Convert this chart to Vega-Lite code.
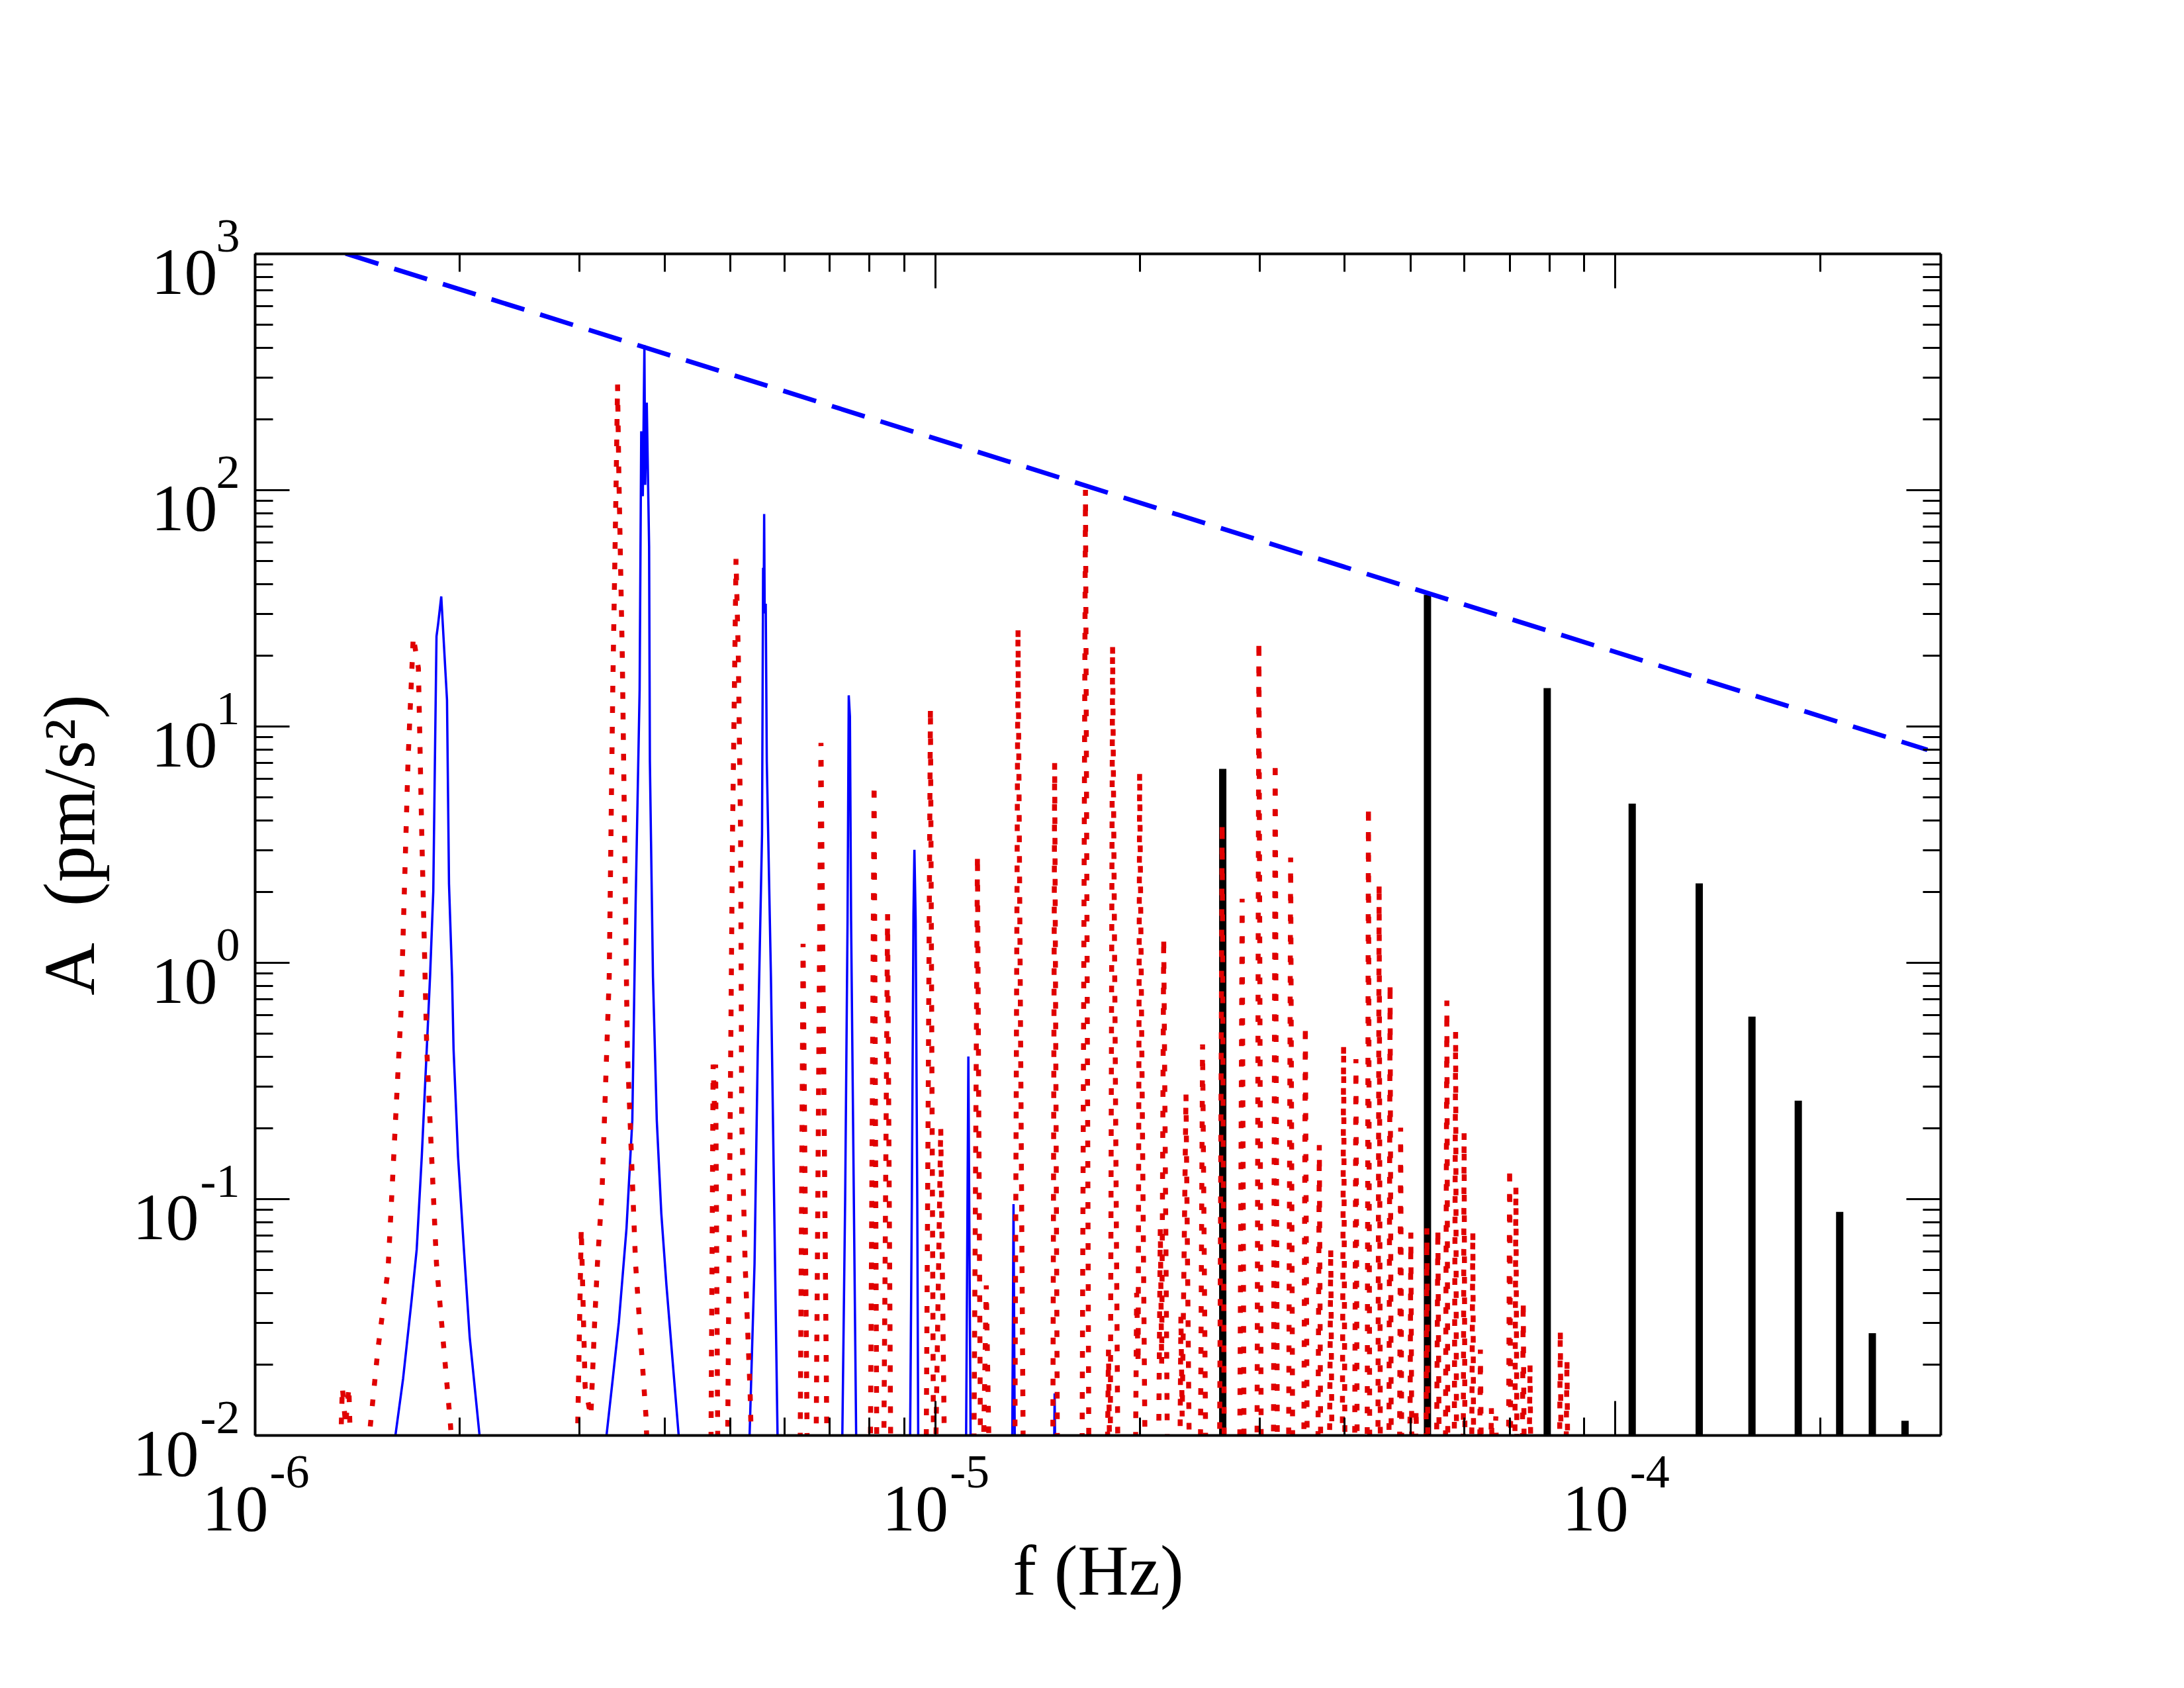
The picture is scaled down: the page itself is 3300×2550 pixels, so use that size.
{
  "$schema": "https://vega.github.io/schema/vega-lite/v6.json",
  "width": 2547,
  "height": 1785,
  "autosize": "none",
  "padding": {"left": 385, "top": 383, "right": 368, "bottom": 382},
  "background": "white",
  "config": {
    "view": {"stroke": null},
    "axis": {"grid": false, "labelFlush": false, "labelOverlap": false, "labelColor": "black", "labelFont": "Liberation Serif", "titleFont": "Liberation Serif", "titleColor": "black", "titleFontWeight": "normal"}
  },
  "datasets": {
    "red": [
      {"f": 1.33e-6, "A": 0.005}, {"f": 1.345e-6, "A": 0.016}, {"f": 1.36e-6, "A": 0.011}, {"f": 1.375e-6, "A": 0.016}, {"f": 1.39e-6, "A": 0.005},
      {"f": 1.46e-6, "A": 0.005}, {"f": 1.474e-6, "A": 0.01}, {"f": 1.517e-6, "A": 0.023}, {"f": 1.57e-6, "A": 0.05}, {"f": 1.64e-6, "A": 0.61}, {"f": 1.68e-6, "A": 7.1}, {"f": 1.71e-6, "A": 24}, {"f": 1.74e-6, "A": 17.6}, {"f": 1.76e-6, "A": 3.5}, {"f": 1.79e-6, "A": 0.43}, {"f": 1.85e-6, "A": 0.053}, {"f": 1.94e-6, "A": 0.011}, {"f": 1.97e-6, "A": 0.005},
      {"f": 2.97e-6, "A": 0.005}, {"f": 3.02e-6, "A": 0.075}, {"f": 3.06e-6, "A": 0.016}, {"f": 3.12e-6, "A": 0.012}, {"f": 3.16e-6, "A": 0.03}, {"f": 3.19e-6, "A": 0.053}, {"f": 3.24e-6, "A": 0.107}, {"f": 3.32e-6, "A": 0.87}, {"f": 3.36e-6, "A": 14.3}, {"f": 3.4e-6, "A": 116}, {"f": 3.415e-6, "A": 279}, {"f": 3.43e-6, "A": 116}, {"f": 3.47e-6, "A": 20}, {"f": 3.53e-6, "A": 0.43}, {"f": 3.63e-6, "A": 0.053}, {"f": 3.76e-6, "A": 0.012}, {"f": 3.8e-6, "A": 0.005},
      {"f": 4.68e-6, "A": 0.005}, {"f": 4.72e-6, "A": 0.37}, {"f": 4.74e-6, "A": 0.25}, {"f": 4.76e-6, "A": 0.37}, {"f": 4.8e-6, "A": 0.005},
      {"f": 4.95e-6, "A": 0.005}, {"f": 4.98e-6, "A": 0.053}, {"f": 5.01e-6, "A": 0.43}, {"f": 5.04e-6, "A": 3.5}, {"f": 5.08e-6, "A": 20}, {"f": 5.1e-6, "A": 51}, {"f": 5.14e-6, "A": 20}, {"f": 5.18e-6, "A": 3.5}, {"f": 5.2e-6, "A": 0.215}, {"f": 5.26e-6, "A": 0.053}, {"f": 5.35e-6, "A": 0.015}, {"f": 5.4e-6, "A": 0.005},
      {"f": 6.33e-6, "A": 0.005}, {"f": 6.4e-6, "A": 1.2}, {"f": 6.5e-6, "A": 0.005},
      {"f": 6.68e-6, "A": 0.005}, {"f": 6.8e-6, "A": 8.5}, {"f": 6.95e-6, "A": 0.005},
      {"f": 8.03e-6, "A": 0.005}, {"f": 8.14e-6, "A": 5.7}, {"f": 8.22e-6, "A": 0.005},
      {"f": 8.4e-6, "A": 0.005}, {"f": 8.52e-6, "A": 1.6}, {"f": 8.62e-6, "A": 0.005},
      {"f": 9.7e-6, "A": 0.005}, {"f": 9.85e-6, "A": 12}, {"f": 9.96e-6, "A": 0.005},
      {"f": 1.0e-5, "A": 0.005}, {"f": 1.02e-5, "A": 0.2}, {"f": 1.035e-5, "A": 0.005},
      {"f": 1.14e-5, "A": 0.005}, {"f": 1.155e-5, "A": 2.86}, {"f": 1.168e-5, "A": 0.005},
      {"f": 1.175e-5, "A": 0.005}, {"f": 1.19e-5, "A": 0.043}, {"f": 1.205e-5, "A": 0.005},
      {"f": 1.31e-5, "A": 0.005}, {"f": 1.325e-5, "A": 26}, {"f": 1.35e-5, "A": 0.005},
      {"f": 1.49e-5, "A": 0.005}, {"f": 1.5e-5, "A": 7}, {"f": 1.515e-5, "A": 0.005},
      {"f": 1.645e-5, "A": 0.005}, {"f": 1.665e-5, "A": 100}, {"f": 1.685e-5, "A": 0.005},
      {"f": 1.79e-5, "A": 0.005}, {"f": 1.8e-5, "A": 0.023}, {"f": 1.81e-5, "A": 0.005}, {"f": 1.825e-5, "A": 22}, {"f": 1.86e-5, "A": 0.005},
      {"f": 1.97e-5, "A": 0.005}, {"f": 1.98e-5, "A": 0.04}, {"f": 1.99e-5, "A": 0.02}, {"f": 2.0e-5, "A": 6.4}, {"f": 2.04e-5, "A": 0.005},
      {"f": 2.13e-5, "A": 0.005}, {"f": 2.145e-5, "A": 0.075}, {"f": 2.155e-5, "A": 0.02}, {"f": 2.17e-5, "A": 1.28}, {"f": 2.2e-5, "A": 0.005},
      {"f": 2.29e-5, "A": 0.005}, {"f": 2.3e-5, "A": 0.032}, {"f": 2.31e-5, "A": 0.012}, {"f": 2.34e-5, "A": 0.277}, {"f": 2.37e-5, "A": 0.005},
      {"f": 2.455e-5, "A": 0.005}, {"f": 2.475e-5, "A": 0.45}, {"f": 2.49e-5, "A": 0.05}, {"f": 2.505e-5, "A": 0.005},
      {"f": 2.62e-5, "A": 0.005}, {"f": 2.645e-5, "A": 3.9}, {"f": 2.665e-5, "A": 0.005},
      {"f": 2.805e-5, "A": 0.005}, {"f": 2.83e-5, "A": 1.86}, {"f": 2.85e-5, "A": 0.005},
      {"f": 2.975e-5, "A": 0.005}, {"f": 2.995e-5, "A": 23}, {"f": 3.02e-5, "A": 0.005},
      {"f": 3.145e-5, "A": 0.005}, {"f": 3.165e-5, "A": 7.1}, {"f": 3.19e-5, "A": 0.005},
      {"f": 3.31e-5, "A": 0.005}, {"f": 3.335e-5, "A": 2.78}, {"f": 3.36e-5, "A": 0.005},
      {"f": 3.485e-5, "A": 0.005}, {"f": 3.505e-5, "A": 0.545}, {"f": 3.53e-5, "A": 0.005},
      {"f": 3.655e-5, "A": 0.005}, {"f": 3.675e-5, "A": 0.169}, {"f": 3.695e-5, "A": 0.005},
      {"f": 3.8e-5, "A": 0.005}, {"f": 3.82e-5, "A": 0.062}, {"f": 3.84e-5, "A": 0.005},
      {"f": 3.97e-5, "A": 0.005}, {"f": 3.99e-5, "A": 0.45}, {"f": 4.01e-5, "A": 0.005},
      {"f": 4.14e-5, "A": 0.005}, {"f": 4.16e-5, "A": 0.39}, {"f": 4.18e-5, "A": 0.005},
      {"f": 4.32e-5, "A": 0.005}, {"f": 4.34e-5, "A": 4.6}, {"f": 4.36e-5, "A": 0.005},
      {"f": 4.48e-5, "A": 0.005}, {"f": 4.5e-5, "A": 2.17}, {"f": 4.52e-5, "A": 0.005},
      {"f": 4.65e-5, "A": 0.005}, {"f": 4.67e-5, "A": 0.82}, {"f": 4.69e-5, "A": 0.005},
      {"f": 4.82e-5, "A": 0.005}, {"f": 4.84e-5, "A": 0.2}, {"f": 4.86e-5, "A": 0.005},
      {"f": 4.99e-5, "A": 0.005}, {"f": 5.01e-5, "A": 0.072}, {"f": 5.03e-5, "A": 0.005},
      {"f": 5.08e-5, "A": 0.005}, {"f": 5.1e-5, "A": 0.013}, {"f": 5.12e-5, "A": 0.005},
      {"f": 5.27e-5, "A": 0.005}, {"f": 5.29e-5, "A": 0.075}, {"f": 5.31e-5, "A": 0.005},
      {"f": 5.46e-5, "A": 0.005}, {"f": 5.49e-5, "A": 0.075}, {"f": 5.52e-5, "A": 0.005},
      {"f": 5.63e-5, "A": 0.005}, {"f": 5.66e-5, "A": 0.69}, {"f": 5.68e-5, "A": 0.005},
      {"f": 5.8e-5, "A": 0.005}, {"f": 5.83e-5, "A": 0.51}, {"f": 5.85e-5, "A": 0.005},
      {"f": 5.98e-5, "A": 0.005}, {"f": 6.0e-5, "A": 0.19}, {"f": 6.02e-5, "A": 0.005},
      {"f": 6.15e-5, "A": 0.005}, {"f": 6.18e-5, "A": 0.073}, {"f": 6.2e-5, "A": 0.005},
      {"f": 6.32e-5, "A": 0.005}, {"f": 6.34e-5, "A": 0.023}, {"f": 6.37e-5, "A": 0.005},
      {"f": 6.56e-5, "A": 0.005}, {"f": 6.58e-5, "A": 0.013}, {"f": 6.62e-5, "A": 0.005}, {"f": 6.68e-5, "A": 0.012}, {"f": 6.72e-5, "A": 0.005},
      {"f": 6.97e-5, "A": 0.005}, {"f": 7.0e-5, "A": 0.136}, {"f": 7.03e-5, "A": 0.005},
      {"f": 7.12e-5, "A": 0.005}, {"f": 7.15e-5, "A": 0.113}, {"f": 7.18e-5, "A": 0.005},
      {"f": 7.3e-5, "A": 0.005}, {"f": 7.33e-5, "A": 0.037}, {"f": 7.36e-5, "A": 0.005},
      {"f": 7.47e-5, "A": 0.005}, {"f": 7.5e-5, "A": 0.02}, {"f": 7.53e-5, "A": 0.005},
      {"f": 8.28e-5, "A": 0.005}, {"f": 8.31e-5, "A": 0.028}, {"f": 8.34e-5, "A": 0.005},
      {"f": 8.46e-5, "A": 0.005}, {"f": 8.5e-5, "A": 0.021}, {"f": 8.53e-5, "A": 0.005}
    ],
    "blue": [
      {"f": 1.58e-6, "A": 0.005}, {"f": 1.61e-6, "A": 0.01}, {"f": 1.652e-6, "A": 0.0173}, {"f": 1.7e-6, "A": 0.037}, {"f": 1.73e-6, "A": 0.061}, {"f": 1.76e-6, "A": 0.151}, {"f": 1.79e-6, "A": 0.43}, {"f": 1.81e-6, "A": 0.87}, {"f": 1.83e-6, "A": 2.0}, {"f": 1.84e-6, "A": 7.1}, {"f": 1.85e-6, "A": 24}, {"f": 1.86e-6, "A": 27}, {"f": 1.88e-6, "A": 35.4}, {"f": 1.917e-6, "A": 12.9}, {"f": 1.93e-6, "A": 2.15}, {"f": 1.95e-6, "A": 0.87}, {"f": 1.96e-6, "A": 0.43}, {"f": 1.99e-6, "A": 0.151}, {"f": 2.03e-6, "A": 0.061}, {"f": 2.07e-6, "A": 0.026}, {"f": 2.14e-6, "A": 0.01}, {"f": 2.17e-6, "A": 0.005},
      {"f": 3.27e-6, "A": 0.005}, {"f": 3.29e-6, "A": 0.01}, {"f": 3.36e-6, "A": 0.0173}, {"f": 3.43e-6, "A": 0.03}, {"f": 3.52e-6, "A": 0.075}, {"f": 3.59e-6, "A": 0.215}, {"f": 3.63e-6, "A": 1.74}, {"f": 3.68e-6, "A": 14.3}, {"f": 3.7e-6, "A": 177}, {"f": 3.72e-6, "A": 94}, {"f": 3.74e-6, "A": 409}, {"f": 3.75e-6, "A": 105}, {"f": 3.77e-6, "A": 234}, {"f": 3.8e-6, "A": 57.8}, {"f": 3.81e-6, "A": 7.1}, {"f": 3.85e-6, "A": 0.87}, {"f": 3.9e-6, "A": 0.215}, {"f": 3.96e-6, "A": 0.087}, {"f": 4.03e-6, "A": 0.043}, {"f": 4.2e-6, "A": 0.01}, {"f": 4.25e-6, "A": 0.005},
      {"f": 5.3e-6, "A": 0.005}, {"f": 5.34e-6, "A": 0.01}, {"f": 5.43e-6, "A": 0.053}, {"f": 5.49e-6, "A": 0.43}, {"f": 5.57e-6, "A": 3.5}, {"f": 5.59e-6, "A": 46.8}, {"f": 5.6e-6, "A": 30}, {"f": 5.61e-6, "A": 79}, {"f": 5.62e-6, "A": 30}, {"f": 5.64e-6, "A": 33}, {"f": 5.66e-6, "A": 7.1}, {"f": 5.74e-6, "A": 0.87}, {"f": 5.81e-6, "A": 0.075}, {"f": 5.87e-6, "A": 0.01}, {"f": 5.9e-6, "A": 0.005},
      {"f": 7.28e-6, "A": 0.005}, {"f": 7.31e-6, "A": 0.01}, {"f": 7.38e-6, "A": 0.1}, {"f": 7.44e-6, "A": 1.5}, {"f": 7.47e-6, "A": 13.5}, {"f": 7.5e-6, "A": 11}, {"f": 7.53e-6, "A": 1.5}, {"f": 7.6e-6, "A": 0.1}, {"f": 7.66e-6, "A": 0.01}, {"f": 7.7e-6, "A": 0.005},
      {"f": 9.18e-6, "A": 0.005}, {"f": 9.25e-6, "A": 0.1}, {"f": 9.3e-6, "A": 1.6}, {"f": 9.33e-6, "A": 3.0}, {"f": 9.37e-6, "A": 1.5}, {"f": 9.42e-6, "A": 0.1}, {"f": 9.46e-6, "A": 0.005},
      {"f": 1.11e-5, "A": 0.005}, {"f": 1.12e-5, "A": 0.4}, {"f": 1.13e-5, "A": 0.005},
      {"f": 1.298e-5, "A": 0.005}, {"f": 1.305e-5, "A": 0.095}, {"f": 1.312e-5, "A": 0.005},
      {"f": 1.495e-5, "A": 0.005}, {"f": 1.5e-5, "A": 0.015}, {"f": 1.505e-5, "A": 0.005}
    ],
    "black": [
      {"f": 2.65e-5, "A": 6.6}, {"f": 5.3e-5, "A": 36}, {"f": 7.95e-5, "A": 14.5}, {"f": 1.06e-4, "A": 4.7}, {"f": 1.33e-4, "A": 2.16},
      {"f": 1.59e-4, "A": 0.59}, {"f": 1.86e-4, "A": 0.26}, {"f": 2.14e-4, "A": 0.088}, {"f": 2.39e-4, "A": 0.027}, {"f": 2.67e-4, "A": 0.0115}
    ],
    "trend": [
      {"f": 1.36e-6, "A": 1000}, {"f": 2.88e-4, "A": 7.94}
    ]
  },
  "resolve": {"axis": {"x": "independent", "y": "independent"}},
  "layer": [
    {
      "data": {"name": "blue"},
      "mark": {"type": "line", "color": "#0000ff", "strokeWidth": 3.5, "clip": true},
      "encoding": {
        "x": {"field": "f", "type": "quantitative", "scale": {"type": "log", "domain": [1e-6, 3.01e-4], "nice": false}, "axis": null},
        "y": {"field": "A", "type": "quantitative", "scale": {"type": "log", "domain": [0.01, 1000], "nice": false}, "axis": null}
      }
    },
    {
      "data": {"name": "black"},
      "mark": {"type": "rule", "color": "black", "strokeWidth": 11, "clip": true},
      "encoding": {
        "x": {"field": "f", "type": "quantitative", "scale": {"type": "log", "domain": [1e-6, 3.01e-4], "nice": false}, "axis": null},
        "y": {"field": "A", "type": "quantitative", "scale": {"type": "log", "domain": [0.01, 1000], "nice": false}, "axis": null},
        "y2": {"datum": 0.01}
      }
    },
    {
      "data": {"name": "red"},
      "mark": {"type": "line", "color": "#e00000", "strokeWidth": 7.5, "strokeDash": [10, 21], "clip": true},
      "encoding": {
        "x": {"field": "f", "type": "quantitative", "scale": {"type": "log", "domain": [1e-6, 3.01e-4], "nice": false}, "axis": null},
        "y": {"field": "A", "type": "quantitative", "scale": {"type": "log", "domain": [0.01, 1000], "nice": false}, "axis": null}
      }
    },
    {
      "data": {"name": "trend"},
      "mark": {"type": "line", "color": "#0000ff", "strokeWidth": 7, "strokeDash": [52, 25], "clip": true},
      "encoding": {
        "x": {"field": "f", "type": "quantitative", "scale": {"type": "log", "domain": [1e-6, 3.01e-4], "nice": false}, "axis": null},
        "y": {"field": "A", "type": "quantitative", "scale": {"type": "log", "domain": [0.01, 1000], "nice": false}, "axis": null}
      }
    },
    {
      "data": {"name": "trend"},
      "mark": {"type": "rule", "opacity": 0},
      "encoding": {
        "x": {"field": "f", "type": "quantitative", "scale": {"type": "log", "domain": [1e-6, 3.01e-4], "nice": false},
          "axis": {"orient": "bottom", "zindex": 1, "labels": false, "domain": true, "domainColor": "black", "domainWidth": 4,
            "values": [1e-6, 2e-6, 3e-6, 4e-6, 5e-6, 6e-6, 7e-6, 8e-6, 9e-6, 1e-5, 2e-5, 3e-5, 4e-5, 5e-5, 6e-5, 7e-5, 8e-5, 9e-5, 1e-4, 2e-4],
            "tickColor": "black", "tickWidth": 3,
            "tickSize": {"condition": {"test": "abs(log(datum.value)/LN10 - round(log(datum.value)/LN10)) < 0.001", "value": -52}, "value": -27},
            "title": "f (Hz)", "titleFontSize": 107, "titleX": 1274, "titleY": 240, "titleAlign": "center", "titleBaseline": "alphabetic"}}
      }
    },
    {
      "data": {"name": "trend"},
      "mark": {"type": "rule", "opacity": 0},
      "encoding": {
        "x": {"field": "f", "type": "quantitative", "scale": {"type": "log", "domain": [1e-6, 3.01e-4], "nice": false},
          "axis": {"orient": "bottom", "ticks": false, "domain": false, "values": [1e-6, 1e-5, 1e-4], "labelExpr": "'10'",
            "labelFontSize": 100, "labelAlign": "center", "labelBaseline": "alphabetic", "labelPadding": 143, "labelOffset": -30, "title": null}}
      }
    },
    {
      "data": {"name": "trend"},
      "mark": {"type": "rule", "opacity": 0},
      "encoding": {
        "x": {"field": "f", "type": "quantitative", "scale": {"type": "log", "domain": [1e-6, 3.01e-4], "nice": false},
          "axis": {"orient": "bottom", "ticks": false, "domain": false, "values": [1e-6, 1e-5, 1e-4], "labelExpr": "'' + round(log(datum.value)/LN10)",
            "labelFontSize": 72, "labelAlign": "center", "labelBaseline": "alphabetic", "labelPadding": 78, "labelOffset": 52, "title": null}}
      }
    },
    {
      "data": {"name": "trend"},
      "mark": {"type": "rule", "opacity": 0},
      "encoding": {
        "x": {"field": "f", "type": "quantitative", "scale": {"type": "log", "domain": [1e-6, 3.01e-4], "nice": false},
          "axis": {"orient": "top", "zindex": 1, "labels": false, "domain": true, "domainColor": "black", "domainWidth": 4,
            "values": [1e-6, 2e-6, 3e-6, 4e-6, 5e-6, 6e-6, 7e-6, 8e-6, 9e-6, 1e-5, 2e-5, 3e-5, 4e-5, 5e-5, 6e-5, 7e-5, 8e-5, 9e-5, 1e-4, 2e-4],
            "tickColor": "black", "tickWidth": 3,
            "tickSize": {"condition": {"test": "abs(log(datum.value)/LN10 - round(log(datum.value)/LN10)) < 0.001", "value": -52}, "value": -27},
            "title": null}}
      }
    },
    {
      "data": {"name": "trend"},
      "mark": {"type": "rule", "opacity": 0},
      "encoding": {
        "y": {"field": "A", "type": "quantitative", "scale": {"type": "log", "domain": [0.01, 1000], "nice": false},
          "axis": {"orient": "left", "zindex": 1, "labels": false, "domain": true, "domainColor": "black", "domainWidth": 4,
            "values": [0.01, 0.02, 0.03, 0.04, 0.05, 0.06, 0.07, 0.08, 0.09, 0.1, 0.2, 0.3, 0.4, 0.5, 0.6, 0.7, 0.8, 0.9, 1, 2, 3, 4, 5, 6, 7, 8, 9, 10, 20, 30, 40, 50, 60, 70, 80, 90, 100, 200, 300, 400, 500, 600, 700, 800, 900, 1000],
            "tickColor": "black", "tickWidth": 3,
            "tickSize": {"condition": {"test": "abs(log(datum.value)/LN10 - round(log(datum.value)/LN10)) < 0.001", "value": -52}, "value": -27},
            "title": "A\u00a0\u00a0(pm/s²)", "titleFontSize": 110, "titleAngle": -90, "titleX": -244, "titleY": 893, "titleAlign": "center", "titleBaseline": "alphabetic"}}
      }
    },
    {
      "data": {"name": "trend"},
      "mark": {"type": "rule", "opacity": 0},
      "encoding": {
        "y": {"field": "A", "type": "quantitative", "scale": {"type": "log", "domain": [0.01, 1000], "nice": false},
          "axis": {"orient": "left", "ticks": false, "domain": false, "values": [0.01, 0.1, 1, 10, 100, 1000], "labelExpr": "'10'",
            "labelFontSize": 100, "labelAlign": "right", "labelBaseline": "alphabetic", "labelOffset": 60,
            "labelPadding": {"condition": {"test": "datum.value < 0.5", "value": 85}, "value": 57}, "title": null}}
      }
    },
    {
      "data": {"name": "trend"},
      "mark": {"type": "rule", "opacity": 0},
      "encoding": {
        "y": {"field": "A", "type": "quantitative", "scale": {"type": "log", "domain": [0.01, 1000], "nice": false},
          "axis": {"orient": "left", "ticks": false, "domain": false, "values": [0.01, 0.1, 1, 10, 100, 1000], "labelExpr": "'' + round(log(datum.value)/LN10)",
            "labelFontSize": 72, "labelAlign": "right", "labelBaseline": "alphabetic", "labelOffset": -4, "labelPadding": 23, "title": null}}
      }
    },
    {
      "data": {"name": "trend"},
      "mark": {"type": "rule", "opacity": 0},
      "encoding": {
        "y": {"field": "A", "type": "quantitative", "scale": {"type": "log", "domain": [0.01, 1000], "nice": false},
          "axis": {"orient": "right", "zindex": 1, "labels": false, "domain": true, "domainColor": "black", "domainWidth": 4,
            "values": [0.01, 0.02, 0.03, 0.04, 0.05, 0.06, 0.07, 0.08, 0.09, 0.1, 0.2, 0.3, 0.4, 0.5, 0.6, 0.7, 0.8, 0.9, 1, 2, 3, 4, 5, 6, 7, 8, 9, 10, 20, 30, 40, 50, 60, 70, 80, 90, 100, 200, 300, 400, 500, 600, 700, 800, 900, 1000],
            "tickColor": "black", "tickWidth": 3,
            "tickSize": {"condition": {"test": "abs(log(datum.value)/LN10 - round(log(datum.value)/LN10)) < 0.001", "value": -52}, "value": -27},
            "title": null}}
      }
    }
  ]
}
